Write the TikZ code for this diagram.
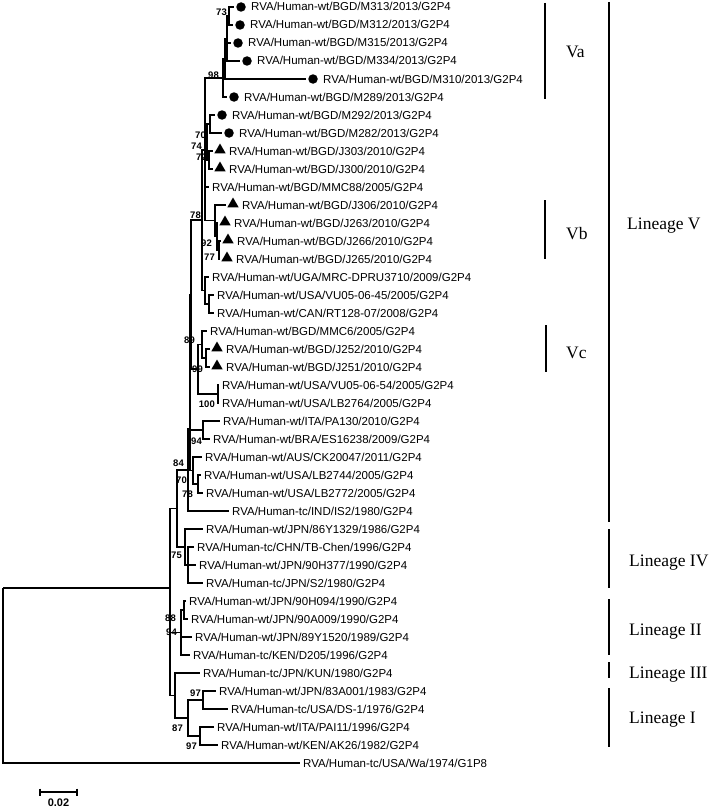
\documentclass[tikz,border=0pt]{standalone}
\usepackage{fontspec}
\setmainfont{Liberation Sans}
\newfontfamily\serifA{Liberation Serif}
\usetikzlibrary{shapes.geometric}
\newcommand\lfN[4]{\coordinate (#1) at (#2,#3); \node[lt] (#1t) at ([xshift=3pt]#1) {#4};}
\newcommand\lfC[4]{\coordinate (#1) at (#2,#3); \node[dotm] (#1m) at ([xshift=7pt]#1) {}; \node[lt] (#1t) at ([xshift=17pt]#1) {#4};}
\newcommand\lfT[4]{\coordinate (#1) at (#2,#3); \node[trim] (#1m) at ([xshift=7pt,yshift=1pt]#1) {}; \node[lt] (#1t) at ([xshift=16pt]#1) {#4};}
\begin{document}
\begin{tikzpicture}[x=1pt,y=-1pt,
 br/.style={line width=1.1pt},
 lt/.style={anchor=base west, inner sep=0pt, font=\fontsize{11.5}{12}\selectfont, yshift=-4pt},
 dotm/.style={circle, fill=black, inner sep=0pt, minimum size=9.5pt},
 trim/.style={regular polygon, regular polygon sides=3, fill=black, inner sep=0pt, minimum size=13pt},
 bs/.style={anchor=east, inner sep=0pt, font=\bfseries\fontsize{9.5}{10}\selectfont},
 lin/.style={line width=2.8pt},
 linl/.style={anchor=base west, inner sep=0pt, font=\serifA\fontsize{17.5}{18}\selectfont, yshift=-6pt}]
\useasboundingbox[fill=white] (0,0) rectangle (714,808);
% leaves
\lfC{m313}{234}{7}{RVA/Human-wt/BGD/M313/2013/G2P4}
\lfC{m312}{233}{25}{RVA/Human-wt/BGD/M312/2013/G2P4}
\lfC{m315}{231}{43}{RVA/Human-wt/BGD/M315/2013/G2P4}
\lfC{m334}{240}{61}{RVA/Human-wt/BGD/M334/2013/G2P4}
\lfC{m310}{306}{79}{RVA/Human-wt/BGD/M310/2013/G2P4}
\lfC{m289}{227}{97}{RVA/Human-wt/BGD/M289/2013/G2P4}
\lfC{m292}{215}{115}{RVA/Human-wt/BGD/M292/2013/G2P4}
\lfC{m282}{222}{133}{RVA/Human-wt/BGD/M282/2013/G2P4}
\lfT{j303}{213}{151}{RVA/Human-wt/BGD/J303/2010/G2P4}
\lfT{j300}{213}{169}{RVA/Human-wt/BGD/J300/2010/G2P4}
\lfN{mmc88}{209}{187}{RVA/Human-wt/BGD/MMC88/2005/G2P4}
\lfT{j306}{226}{205}{RVA/Human-wt/BGD/J306/2010/G2P4}
\lfT{j263}{218}{223}{RVA/Human-wt/BGD/J263/2010/G2P4}
\lfT{j266}{221}{241}{RVA/Human-wt/BGD/J266/2010/G2P4}
\lfT{j265}{220}{259}{RVA/Human-wt/BGD/J265/2010/G2P4}
\lfN{uga}{209}{277}{RVA/Human-wt/UGA/MRC-DPRU3710/2009/G2P4}
\lfN{vu45}{214}{295}{RVA/Human-wt/USA/VU05-06-45/2005/G2P4}
\lfN{can}{214}{313}{RVA/Human-wt/CAN/RT128-07/2008/G2P4}
\lfN{mmc6}{207}{331}{RVA/Human-wt/BGD/MMC6/2005/G2P4}
\lfT{j252}{210}{349}{RVA/Human-wt/BGD/J252/2010/G2P4}
\lfT{j251}{210}{367}{RVA/Human-wt/BGD/J251/2010/G2P4}
\lfN{vu54}{219}{385}{RVA/Human-wt/USA/VU05-06-54/2005/G2P4}
\lfN{lb2764}{219}{403}{RVA/Human-wt/USA/LB2764/2005/G2P4}
\lfN{pa130}{220}{421}{RVA/Human-wt/ITA/PA130/2010/G2P4}
\lfN{es}{210}{439}{RVA/Human-wt/BRA/ES16238/2009/G2P4}
\lfN{aus}{202}{457}{RVA/Human-wt/AUS/CK20047/2011/G2P4}
\lfN{lb2744}{201}{475}{RVA/Human-wt/USA/LB2744/2005/G2P4}
\lfN{lb2772}{203}{493}{RVA/Human-wt/USA/LB2772/2005/G2P4}
\lfN{is2}{229}{511}{RVA/Human-tc/IND/IS2/1980/G2P4}
\lfN{y86}{203}{529}{RVA/Human-wt/JPN/86Y1329/1986/G2P4}
\lfN{tbc}{194}{547}{RVA/Human-tc/CHN/TB-Chen/1996/G2P4}
\lfN{h377}{196}{565}{RVA/Human-wt/JPN/90H377/1990/G2P4}
\lfN{s2}{203}{583}{RVA/Human-tc/JPN/S2/1980/G2P4}
\lfN{h094}{186}{601}{RVA/Human-wt/JPN/90H094/1990/G2P4}
\lfN{a009}{188}{619}{RVA/Human-wt/JPN/90A009/1990/G2P4}
\lfN{y1520}{192}{637}{RVA/Human-wt/JPN/89Y1520/1989/G2P4}
\lfN{d205}{190}{655}{RVA/Human-tc/KEN/D205/1996/G2P4}
\lfN{kun}{200}{673}{RVA/Human-tc/JPN/KUN/1980/G2P4}
\lfN{a001}{216}{691}{RVA/Human-wt/JPN/83A001/1983/G2P4}
\lfN{ds1}{228}{709}{RVA/Human-tc/USA/DS-1/1976/G2P4}
\lfN{pai}{214}{727}{RVA/Human-wt/ITA/PAI11/1996/G2P4}
\lfN{ak}{218}{745}{RVA/Human-wt/KEN/AK26/1982/G2P4}
\lfN{wa}{300}{763}{RVA/Human-tc/USA/Wa/1974/G1P8}
% internal nodes
\coordinate (R) at (3,588);
\coordinate (A) at (170,588);
\coordinate (B) at (177,508.5);
\coordinate (LV) at (188,470);
\coordinate (X) at (190,429);
\coordinate (U) at (191,294.5);
\coordinate (W) at (202,220);
\coordinate (T) at (205,150);
\coordinate (n98) at (223,78);
\coordinate (Sp) at (225,58.75);
\coordinate (S) at (227,38.5);
\coordinate (n73) at (229,16);
\coordinate (n74) at (207,142);
\coordinate (n70a) at (210,124);
\coordinate (n72) at (209,160);
\coordinate (nV) at (215,220.75);
\coordinate (n92) at (217,236.5);
\coordinate (n77) at (219,250);
\coordinate (Q) at (205,290.5);
\coordinate (nUC) at (209,304);
\coordinate (n89) at (198,369);
\coordinate (nVc) at (202,344.5);
\coordinate (n99) at (206,358);
\coordinate (n100) at (218,394);
\coordinate (n94) at (203,430);
\coordinate (n70b) at (193,470.5);
\coordinate (n78) at (198,484);
\coordinate (n75) at (185,547);
\coordinate (n4) at (188,565);
\coordinate (C) at (181,632.5);
\coordinate (n88) at (184,610);
\coordinate (K) at (175,695.5);
\coordinate (L1) at (188,718);
\coordinate (L1a) at (203,700);
\coordinate (L1b) at (200,736);
% branches
\foreach \p/\c in {R/A,R/wa,A/B,A/C,A/K,B/LV,B/n75,LV/X,LV/is2,X/U,X/n94,X/n70b,
 U/W,U/n89,W/T,W/Q,T/n98,T/n74,T/mmc88,T/nV,n98/Sp,n98/m289,Sp/S,Sp/m310,
 S/n73,S/m315,S/m334,n73/m313,n73/m312,n74/n70a,n74/n72,n70a/m292,n70a/m282,
 n72/j303,n72/j300,nV/j306,nV/n92,n92/j263,n92/n77,n77/j266,n77/j265,
 Q/uga,Q/nUC,nUC/vu45,nUC/can,n89/nVc,n89/n100,nVc/mmc6,nVc/n99,n99/j252,n99/j251,
 n100/vu54,n100/lb2764,n94/pa130,n94/es,n70b/aus,n70b/n78,n78/lb2744,n78/lb2772,
 n75/y86,n75/n4,n4/tbc,n4/h377,n4/s2,C/n88,C/y1520,C/d205,n88/h094,n88/a009,
 K/kun,K/L1,L1/L1a,L1/L1b,L1a/a001,L1a/ds1,L1b/pai,L1b/ak}
 \draw[br] (\p) |- (\c);
% bootstrap values
\node[bs] (b73) at (227,12) {73};
\node[bs] (b98) at (219,75.5) {98};
\node[bs] (b70a) at (206,135) {70};
\node[bs] (b74) at (202,146.5) {74};
\node[bs] (b72) at (207,157) {72};
\node[bs] (b78a) at (201,215.5) {78};
\node[bs] (b92) at (212,243) {92};
\node[bs] (b77) at (215,257) {77};
\node[bs] (b89) at (195,340) {89};
\node[bs] (b99) at (203,369) {99};
\node[bs] (b100) at (215,404) {100};
\node[bs] (b94a) at (202,441) {94};
\node[bs] (b84) at (184,463) {84};
\node[bs] (b70b) at (187,480) {70};
\node[bs] (b78b) at (193,494) {78};
\node[bs] (b75) at (182,555) {75};
\node[bs] (b88) at (176,618) {88};
\node[bs] (b94b) at (177,632) {94};
\node[bs] (b97a) at (201,693) {97};
\node[bs] (b87) at (183,728) {87};
\node[bs] (b97b) at (197,746) {97};
% scale bar
\coordinate (sbL) at (40,792);
\coordinate (sbR) at (77,792);
\draw[br] (sbL) -- (sbR);
\draw[br] ([yshift=3.5pt]sbL) -- ([yshift=-3.5pt]sbL);
\draw[br] ([yshift=3.5pt]sbR) -- ([yshift=-3.5pt]sbR);
\node[inner sep=0pt, font=\bfseries\fontsize{11}{12}\selectfont] (sbt) at (58.5,803) {0.02};
% clade bars
\coordinate (va1) at (545,3); \coordinate (va2) at (545,99);
\coordinate (vb1) at (545,200); \coordinate (vb2) at (545,259);
\coordinate (vc1) at (546,325); \coordinate (vc2) at (546,372);
\coordinate (l51) at (609,2); \coordinate (l52) at (609,522);
\coordinate (l41) at (609,529); \coordinate (l42) at (609,588);
\coordinate (l21) at (609,599); \coordinate (l22) at (609,655);
\coordinate (l31) at (609,662); \coordinate (l32) at (609,678);
\coordinate (l11) at (609,688); \coordinate (l12) at (609,747);
\foreach \a/\b in {va1/va2,vb1/vb2,vc1/vc2,l51/l52,l41/l42,l21/l22,l31/l32,l11/l12}
 \draw[lin] (\a) -- (\b);
\node[linl] (tva) at (566,52) {Va};
\node[linl] (tvb) at (566,233) {Vb};
\node[linl] (tvc) at (566,352) {Vc};
\node[linl] (tl5) at (627,223) {Lineage V};
\node[linl] (tl4) at (629,560) {Lineage IV};
\node[linl] (tl2) at (629,629) {Lineage II};
\node[linl] (tl3) at (629,672) {Lineage III};
\node[linl] (tl1) at (629,717) {Lineage I};
\end{tikzpicture}
\end{document}
